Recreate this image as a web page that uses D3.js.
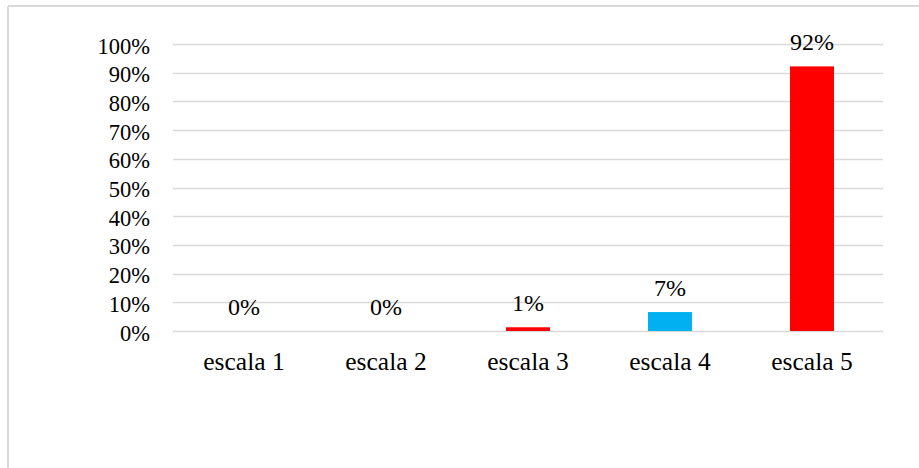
<!DOCTYPE html>
<html>
<head>
<meta charset="utf-8">
<script src="https://cdn.jsdelivr.net/npm/d3@7"></script>
<style>
  html, body { margin: 0; padding: 0; background: #fff; }
  svg { display: block; }
</style>
</head>
<body>
<div id="chart"></div>
<script>
const categories = ["escala 1", "escala 2", "escala 3", "escala 4", "escala 5"];
const values = [0, 0, 0.013, 0.066, 0.922];
const valueLabels = ["0%", "0%", "1%", "7%", "92%"];
const barColors = ["#ff0000", "#ff0000", "#ff0000", "#00b0f0", "#ff0000"];
const tickValues = [0, 0.1, 0.2, 0.3, 0.4, 0.5, 0.6, 0.7, 0.8, 0.9, 1.0];

const FONT = "'Liberation Serif'";
const W = 919, H = 468;
const svg = d3.select("#chart").append("svg").attr("width", W).attr("height", H);

// frame
svg.append("line").attr("x1", 8).attr("x2", W).attr("y1", 6).attr("y2", 6)
  .attr("stroke", "#d9d9d9").attr("stroke-width", 2);
svg.append("line").attr("x1", 8).attr("x2", 8).attr("y1", 6).attr("y2", H)
  .attr("stroke", "#d9d9d9").attr("stroke-width", 2);

const plotLeft = 173, plotRight = 883, plotTop = 44, plotBottom = 331;
const x = d3.scaleBand().domain(categories).range([plotLeft, plotRight]).paddingInner(0.69).paddingOuter(0.345);
const y = d3.scaleLinear().domain([0, 1]).range([plotBottom, plotTop]);

// gridlines
svg.append("g").selectAll("line").data(tickValues).join("line")
  .attr("x1", plotLeft).attr("x2", plotRight)
  .attr("y1", d => Math.round(y(d)) + 0.5).attr("y2", d => Math.round(y(d)) + 0.5)
  .attr("stroke", "#d9d9d9").attr("stroke-width", 1.3);

// y axis labels
const yAxis = d3.axisLeft(y).tickValues(tickValues).tickFormat(d3.format(".0%")).tickSize(0).tickPadding(23);
const gy = svg.append("g").attr("transform", `translate(${plotLeft},0)`).call(yAxis);
gy.attr("font-family", null);
gy.select(".domain").remove();
gy.selectAll("text").style("font-family", FONT).style("font-size", "22.5px")
  .attr("fill", "#000").attr("dy", "9px");

// bars
svg.append("g").selectAll("rect").data(values).join("rect")
  .attr("x", (d, i) => x(categories[i]))
  .attr("width", x.bandwidth())
  .attr("y", d => y(d))
  .attr("height", d => y(0) - y(d))
  .attr("fill", (d, i) => barColors[i]);

// value labels
svg.append("g").selectAll("text").data(values).join("text")
  .attr("x", (d, i) => x(categories[i]) + x.bandwidth() / 2)
  .attr("y", d => y(d) - 16)
  .attr("text-anchor", "middle")
  .style("font-family", FONT).style("font-size", "24px")
  .attr("fill", "#000")
  .text((d, i) => valueLabels[i]);

// category labels
const xAxis = d3.axisBottom(x).tickSize(0).tickPadding(0);
const gx = svg.append("g").attr("transform", `translate(0,${plotBottom})`).call(xAxis);
gx.attr("font-family", null);
gx.select(".domain").remove();
gx.selectAll("text").style("font-family", FONT).style("font-size", "25.5px")
  .attr("fill", "#000").attr("y", 39).attr("dy", null);
</script>
</body>
</html>
